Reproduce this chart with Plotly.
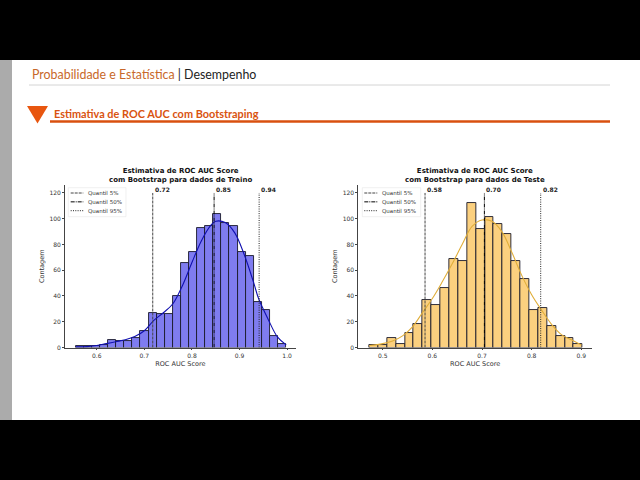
import plotly.graph_objects as go

# ---- data ----
train_start = 0.5559
train_width = 0.0170
train_counts = [1, 1, 1, 2, 6, 5, 5, 7, 13, 27, 26, 26, 40, 66, 74, 93, 94, 104, 97, 94, 74, 71, 35, 29, 9, 3]
train_kde_x = [0.556, 0.58, 0.60, 0.62, 0.64, 0.66, 0.68, 0.70, 0.72, 0.74, 0.76, 0.78, 0.80, 0.82, 0.84, 0.85, 0.87, 0.89, 0.91, 0.93, 0.94, 0.96, 0.98, 0.998]
train_kde_y = [0.5, 0.7, 1.5, 3, 4.5, 6, 8.5, 13, 21, 27, 34, 48, 66, 83, 95, 98, 97, 89, 72, 50, 38, 22, 8, 2]
train_q = [0.7177, 0.8466, 0.9412]
train_q_labels = ["0.72", "0.85", "0.94"]

test_start = 0.4731
test_width = 0.0179
test_counts = [2, 2, 7, 3, 11, 18, 37, 33, 46, 69, 67, 112, 92, 101, 96, 88, 67, 53, 29, 31, 17, 9, 7, 3]
test_kde_x = [0.473, 0.50, 0.52, 0.54, 0.56, 0.58, 0.60, 0.62, 0.64, 0.66, 0.68, 0.70, 0.72, 0.74, 0.76, 0.78, 0.80, 0.82, 0.84, 0.86, 0.88, 0.90]
test_kde_y = [1.5, 3, 5, 9, 16, 27, 38, 51, 65, 80, 94, 99, 98, 90, 74, 56, 41, 29, 18, 10, 6, 2]
test_q = [0.5853, 0.7048, 0.8182]
test_q_labels = ["0.58", "0.70", "0.82"]

q_names = ["Quantil 5%", "Quantil 50%", "Quantil 95%"]
q_top = 120
panel_titles = ["<b>Estimativa de ROC AUC Score<br>com Bootstrap para dados de Treino</b>",
                "<b>Estimativa de ROC AUC Score<br>com Bootstrap para dados de Teste</b>"]

W, H = 640, 480
PH = 477  # plot height: the layout keeps 3 px at the bottom
px = lambda v: v / W
py = lambda v: 1 - v / PH
CH = "DejaVu Sans"
SL = "Lato"
q_dashes = ["3px,1px", "4px,1px,1px,1px", "1px,1.3px"]
q_colors = ["#444444", "#000000", "#222222"]

fig = go.Figure()
leg_shapes = []
leg_annots = []


def panel(ax, start, width, counts, kx, ky, q, qlab, fill, kcol, box, line_x, text_x):
    xa = "x" if ax == 1 else "x2"
    ya = "y" if ax == 1 else "y2"
    fig.add_bar(x=[start + width * (i + 0.5) for i in range(len(counts))], y=counts, width=width,
                marker=dict(color=fill, line=dict(color="#1a1a2a", width=0.9)),
                showlegend=False, xaxis=xa, yaxis=ya, hoverinfo="skip")
    fig.add_scatter(x=kx, y=ky, mode="lines", line=dict(color=kcol, width=1.1, shape="spline"),
                    showlegend=False, xaxis=xa, yaxis=ya, hoverinfo="skip")
    leg_shapes.append(dict(type="rect", xref="paper", yref="paper", x0=px(box[0]), x1=px(box[1]),
                           y0=py(216.7), y1=py(187.7), fillcolor="rgba(255,255,255,0.85)",
                           line=dict(color="#e6e6e6", width=0.6)))
    for i, (v, lab, n, d, c) in enumerate(zip(q, qlab, q_names, q_dashes, q_colors)):
        fig.add_scatter(x=[v, v], y=[0, q_top], mode="lines", showlegend=False,
                        line=dict(color=c, width=1.0, dash=d), xaxis=xa, yaxis=ya, hoverinfo="skip")
        fig.add_annotation(x=v, y=q_top, xref=xa, yref=ya, text=f"<b>{lab}</b>", showarrow=False,
                           xanchor="left", yanchor="bottom", xshift=0, yshift=-2,
                           font=dict(family=CH, size=6, color="#222"))
        row = 193 + i * 8.85
        leg_shapes.append(dict(type="line", xref="paper", yref="paper", x0=px(line_x[0]), x1=px(line_x[1]),
                               y0=py(row), y1=py(row), line=dict(color=c, width=1.0, dash=d)))
        leg_annots.append(dict(xref="paper", yref="paper", x=px(text_x), y=py(row), xanchor="left",
                               yanchor="middle", showarrow=False, text=n,
                               font=dict(family=CH, size=5.5, color="#333")))


panel(1, train_start, train_width, train_counts, train_kde_x, train_kde_y, train_q, train_q_labels,
      "#7f7cf0", "#1010b0", (68.3, 126), (70.7, 83.3), 86)
panel(2, test_start, test_width, test_counts, test_kde_x, test_kde_y, test_q, test_q_labels,
      "#fbd07f", "#e0ae3a", (362.3, 420.7), (364.3, 377.3), 379.7)


def axis_style(**k):
    return dict(showgrid=False, zeroline=False, showline=True, linecolor="#444", linewidth=0.8,
                ticks="outside", ticklen=2, tickwidth=0.6, tickcolor="#444",
                tickfont=dict(family=CH, size=6, color="#333"), **k)


x_title = dict(text="ROC AUC Score", font=dict(family=CH, size=6.5, color="#333"), standoff=3)
y_title = dict(text="Contagem", font=dict(family=CH, size=6.5, color="#333"), standoff=4)
y_ticks = [0, 20, 40, 60, 80, 100, 120]

shapes = [
    dict(type="rect", xref="paper", yref="paper", x0=0, x1=1, y0=py(60), y1=1, fillcolor="black", line_width=0, layer="below"),
    dict(type="rect", xref="paper", yref="paper", x0=0, x1=1, y0=py(481), y1=py(420), fillcolor="black", line_width=0, layer="below"),
    dict(type="rect", xref="paper", yref="paper", x0=0, x1=px(12), y0=py(420), y1=py(60), fillcolor="#ababab", line_width=0, layer="below"),
    dict(type="line", xref="paper", yref="paper", x0=px(29), x1=px(610), y0=py(85), y1=py(85), line=dict(color="#d4d4d4", width=1)),
    dict(type="line", xref="paper", yref="paper", x0=px(50), x1=px(610), y0=py(121.5), y1=py(121.5), line=dict(color="#d9500f", width=2.6)),
    dict(type="path", xref="paper", yref="paper",
         path=f"M {px(27)} {py(106)} L {px(48)} {py(106)} L {px(37.5)} {py(123.5)} Z",
         fillcolor="#e8560f", line_width=0),
] + leg_shapes

annotations = list(fig.layout.annotations) + leg_annots + [
    dict(xref="paper", yref="paper", x=px(30), y=py(74), xanchor="left", yanchor="middle", showarrow=False,
         text='<span style="color:#c8682a">Probabilidade e Estatística</span> | Desempenho',
         font=dict(family=SL, size=12.4, color="#222")),
    dict(xref="paper", yref="paper", x=px(52), y=py(113), xanchor="left", yanchor="middle", showarrow=False,
         text="<b>Estimativa de ROC AUC com Bootstraping</b>",
         font=dict(family=SL, size=10.9, color="#d9530f")),
    dict(xref="paper", yref="paper", x=px(180.5), y=py(175.5), xanchor="center", yanchor="middle", showarrow=False,
         text=panel_titles[0], font=dict(family=CH, size=7, color="#111")),
    dict(xref="paper", yref="paper", x=px(475), y=py(175.5), xanchor="center", yanchor="middle", showarrow=False,
         text=panel_titles[1], font=dict(family=CH, size=7, color="#111")),
]

fig.update_layout(
    width=W, height=H, margin=dict(l=0, r=0, t=0, b=3), autosize=False, showlegend=False,
    paper_bgcolor="white", plot_bgcolor="rgba(0,0,0,0)", bargap=0, barmode="overlay",
    shapes=shapes, annotations=annotations,
    xaxis=axis_style(domain=[px(65), px(295.7)], range=[0.5334, 1.018], tickvals=[0.6, 0.7, 0.8, 0.9, 1.0],
                     ticktext=["0.6", "0.7", "0.8", "0.9", "1.0"], title=x_title, anchor="y"),
    yaxis=axis_style(domain=[py(347.5), py(185)], range=[0, 126.2], tickvals=y_ticks, title=y_title, anchor="x"),
    xaxis2=axis_style(domain=[px(358.3), px(592)], range=[0.4509, 0.9215], tickvals=[0.5, 0.6, 0.7, 0.8, 0.9],
                      ticktext=["0.5", "0.6", "0.7", "0.8", "0.9"], title=x_title, anchor="y2"),
    yaxis2=axis_style(domain=[py(347.5), py(185)], range=[0, 126.2], tickvals=y_ticks, title=y_title, anchor="x2"),
)

fig.write_html("out.html", config={"displayModeBar": False},
               post_script="document.body.style.margin='0';")
